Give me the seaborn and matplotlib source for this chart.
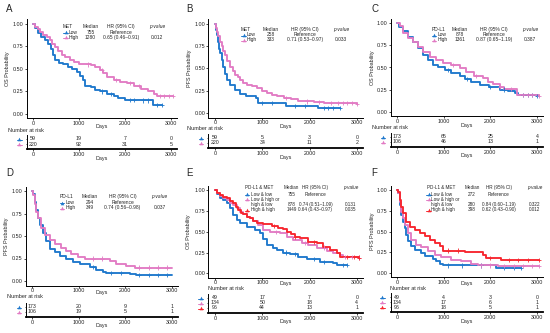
import numpy as np
import pandas as pd
import matplotlib
matplotlib.use("Agg")
import matplotlib.pyplot as plt
import matplotlib.transforms as mtransforms
from matplotlib.lines import Line2D
import seaborn as sns

# ---------------- data ----------------
# A: OS by MET
a_low_t = [0, 50, 100, 180, 260, 330, 380, 430, 480, 560, 650, 750, 850, 950, 1030, 1080, 1130, 1250, 1350, 1450, 1600, 1750, 1850, 2000, 2300, 2600, 2800]
a_low_s = [1.0, 0.95, 0.90, 0.86, 0.82, 0.78, 0.72, 0.66, 0.60, 0.57, 0.55, 0.52, 0.50, 0.47, 0.42, 0.38, 0.31, 0.30, 0.27, 0.25, 0.22, 0.20, 0.18, 0.16, 0.15, 0.10, 0.10]
a_low_c = [1500, 1700, 2100, 2200, 2400, 2500, 2700, 2800]
a_high_t = [0, 50, 100, 150, 220, 300, 360, 420, 480, 540, 620, 700, 800, 900, 1000, 1100, 1250, 1350, 1450, 1520, 1600, 1750, 1900, 2050, 2200, 2350, 2500, 2620, 2700, 3050]
a_high_s = [1.0, 0.97, 0.94, 0.91, 0.88, 0.85, 0.82, 0.78, 0.74, 0.70, 0.66, 0.63, 0.60, 0.58, 0.56, 0.55, 0.54, 0.52, 0.49, 0.45, 0.41, 0.38, 0.36, 0.34, 0.31, 0.28, 0.25, 0.22, 0.20, 0.20]
a_high_c = [1200, 1500, 1800, 2100, 2300, 2750, 2850, 2950, 3050]

# B: PFS by MET
b_low_t = [0, 15, 35, 55, 80, 105, 140, 175, 210, 250, 320, 420, 520, 650, 860, 900, 1500, 2170, 2650]
b_low_s = [1.0, 0.93, 0.88, 0.80, 0.72, 0.67, 0.60, 0.52, 0.44, 0.37, 0.31, 0.26, 0.21, 0.19, 0.17, 0.11, 0.08, 0.06, 0.06]
b_low_c = [1000, 1200, 1700, 1900, 2300, 2400, 2500, 2650]
b_high_t = [0, 20, 45, 70, 100, 140, 175, 210, 260, 320, 370, 425, 480, 530, 600, 675, 780, 890, 1000, 1100, 1200, 1310, 1450, 1600, 1750, 1880, 2090, 2300, 3000]
b_high_s = [1.0, 0.95, 0.91, 0.86, 0.80, 0.75, 0.70, 0.65, 0.58, 0.52, 0.47, 0.43, 0.40, 0.37, 0.34, 0.32, 0.30, 0.28, 0.25, 0.22, 0.20, 0.19, 0.17, 0.16, 0.14, 0.13, 0.12, 0.11, 0.10]
b_high_c = [1500, 1950, 2200, 2450, 2600, 2700, 2800, 2900, 3000]

# C: OS by PD-L1
c_low_t = [0, 50, 130, 235, 340, 450, 560, 660, 770, 880, 1020, 1160, 1340, 1450, 1590, 1770, 1980, 2200, 2380, 2520, 2600, 3000]
c_low_s = [1.0, 0.96, 0.91, 0.85, 0.79, 0.72, 0.64, 0.585, 0.53, 0.50, 0.47, 0.44, 0.40, 0.37, 0.34, 0.30, 0.28, 0.25, 0.23, 0.215, 0.19, 0.18]
c_low_c = [1100, 1500, 2000, 2300, 2700, 2800, 2900, 3000]
c_high_t = [0, 60, 130, 235, 340, 450, 560, 700, 840, 985, 1160, 1340, 1480, 1660, 1840, 1950, 2060, 2200, 2300, 2580, 3050]
c_high_s = [1.0, 0.97, 0.89, 0.84, 0.79, 0.73, 0.68, 0.62, 0.58, 0.55, 0.53, 0.49, 0.45, 0.40, 0.38, 0.34, 0.31, 0.275, 0.26, 0.19, 0.18]
c_high_c = [1200, 1700, 2200, 2450, 2700, 2800, 2900, 3050]

# D: PFS by PD-L1
d_low_t = [0, 20, 55, 90, 130, 165, 235, 305, 380, 485, 590, 735, 880, 1020, 1235, 1380, 1520, 1590, 2100, 2235, 3000]
d_low_s = [1.0, 0.97, 0.88, 0.79, 0.70, 0.62, 0.53, 0.44, 0.36, 0.32, 0.28, 0.24, 0.215, 0.19, 0.16, 0.12, 0.10, 0.085, 0.075, 0.065, 0.065]
d_low_c = [1300, 1700, 1900, 2300, 2500, 2700, 2900]
d_high_t = [0, 20, 55, 90, 130, 200, 270, 380, 485, 630, 735, 845, 985, 1130, 1665, 1810, 2020, 2200, 3000]
d_high_s = [1.0, 0.96, 0.86, 0.77, 0.70, 0.59, 0.51, 0.455, 0.41, 0.37, 0.33, 0.30, 0.27, 0.25, 0.22, 0.19, 0.17, 0.15, 0.15]
d_high_c = [1300, 1500, 2300, 2500, 2700, 2900]

# E: OS by PD-L1 & MET
e_low_t = [0, 50, 106, 176, 247, 318, 388, 460, 530, 670, 847, 953, 1023, 1108, 1235, 1306, 1447, 1588, 1765, 1941, 2223, 2505, 2576, 2790]
e_low_s = [1.0, 0.95, 0.91, 0.88, 0.84, 0.78, 0.70, 0.64, 0.60, 0.56, 0.52, 0.48, 0.41, 0.34, 0.31, 0.28, 0.25, 0.23, 0.20, 0.17, 0.14, 0.12, 0.10, 0.10]
e_low_c = [1500, 1700, 2100, 2300, 2700, 2790]
e_mid_t = [0, 50, 106, 176, 247, 318, 388, 460, 530, 600, 670, 740, 812, 918, 1023, 1165, 1376, 1517, 1659, 1835, 1976, 2153, 2364, 2505, 2647, 2717, 3040]
e_mid_s = [1.0, 0.96, 0.93, 0.90, 0.88, 0.85, 0.82, 0.78, 0.74, 0.71, 0.68, 0.66, 0.63, 0.58, 0.52, 0.50, 0.48, 0.44, 0.40, 0.36, 0.34, 0.31, 0.27, 0.24, 0.22, 0.20, 0.19]
e_mid_c = [1300, 1900, 2300, 2750, 2900, 3040]
e_high_t = [0, 50, 106, 176, 247, 318, 388, 440, 494, 550, 600, 670, 741, 812, 882, 1023, 1200, 1341, 1447, 1517, 1600, 1694, 1800, 1976, 2153, 2294, 2435, 2576, 2647, 3040]
e_high_s = [1.0, 0.97, 0.94, 0.92, 0.90, 0.87, 0.84, 0.80, 0.76, 0.73, 0.71, 0.68, 0.66, 0.63, 0.61, 0.59, 0.57, 0.55, 0.53, 0.50, 0.47, 0.44, 0.42, 0.38, 0.36, 0.32, 0.28, 0.24, 0.20, 0.19]
e_high_c = [1250, 1700, 2100, 2800, 2950, 3040]

# F: PFS by PD-L1 & MET
f_low_t = [0, 20, 55, 90, 130, 165, 200, 235, 305, 380, 520, 590, 770, 840, 915, 985, 2130, 2660]
f_low_s = [1.0, 0.96, 0.82, 0.70, 0.62, 0.54, 0.46, 0.38, 0.32, 0.28, 0.24, 0.20, 0.17, 0.14, 0.11, 0.09, 0.06, 0.06]
f_low_c = [1100, 1400, 1800, 2300, 2500, 2660]
f_mid_t = [0, 20, 55, 90, 130, 165, 235, 305, 415, 520, 665, 805, 950, 1165, 1380, 1590, 1735, 2165, 3040]
f_mid_s = [1.0, 0.97, 0.86, 0.74, 0.66, 0.58, 0.48, 0.40, 0.34, 0.31, 0.27, 0.22, 0.19, 0.16, 0.14, 0.11, 0.09, 0.08, 0.08]
f_mid_c = [1800, 2000, 2300, 2500, 2700, 2900, 3040]
f_high_t = [0, 20, 55, 90, 130, 200, 270, 380, 485, 590, 700, 805, 915, 985, 1450, 1840, 1915, 2235, 3040]
f_high_s = [1.0, 0.98, 0.88, 0.80, 0.72, 0.62, 0.56, 0.52, 0.48, 0.44, 0.40, 0.36, 0.32, 0.27, 0.25, 0.22, 0.18, 0.16, 0.16]
f_high_c = [1100, 1300, 2000, 2400, 2600, 2800, 3040]

# number at risk at 0 / 1000 / 2000 / 3000 days
risk_days = [0, 1000, 2000, 3000]
a_risk = [[59, 19, 7, 0], [220, 92, 31, 5]]
b_risk = [[59, 5, 3, 0], [220, 34, 11, 2]]
c_risk = [[173, 65, 25, 4], [106, 46, 13, 1]]
d_risk = [[173, 20, 9, 1], [106, 19, 5, 1]]
e_risk = [[49, 17, 7, 0], [134, 50, 18, 4], [96, 44, 13, 1]]
f_risk = [[49, 4, 3, 0], [134, 17, 6, 1], [96, 18, 5, 1]]

# legend tables
two_groups = ["Low", "High"]
three_groups = ["Low & low", "Low & high or\nhigh & low", "High & high"]
a_median, a_hr, a_p = ["755", "1280"], ["Reference", "0.65 (0.46\u20130.91)"], ["", "0.012"]
b_median, b_hr, b_p = ["258", "333"], ["Reference", "0.71 (0.53\u20130.97)"], ["", "0.033"]
c_median, c_hr, c_p = ["878", "1361"], ["Reference", "0.87 (0.65\u20131.19)"], ["", "0.387"]
d_median, d_hr, d_p = ["294", "349"], ["Reference", "0.74 (0.56\u20130.98)"], ["", "0.037"]
e_median, e_hr, e_p = ["755", "878", "1449"], ["Reference", "0.74 (0.51\u20131.09)", "0.64 (0.43\u20130.97)"], ["", "0.131", "0.035"]
f_median, f_hr, f_p = ["272", "280", "398"], ["Reference", "0.84 (0.60\u20131.19)", "0.62 (0.43\u20130.90)"], ["", "0.322", "0.012"]

BLUE, PINK, RED = "#1f78cc", "#e27bc4", "#f7262e"

panels = [
    dict(letter="A", ylab="OS Probability", title="MET", names=two_groups, colors=[BLUE, PINK],
         curves=[(a_low_t, a_low_s, a_low_c), (a_high_t, a_high_s, a_high_c)],
         risk=a_risk, med=a_median, hr=a_hr, p=a_p,
         box=(26.6, 19.5, 177, 118.5), days_y=126.7, ylab_x=7, letter_xy=(5.5, 8.5),
         leg=dict(head=(62.7, 26.7), row0=32.3, key=65.5, name=69, med=90.5, hr=121, p=157, fs=3.5),
         rbox=(135, 149), nar=(8.3, 130.5), rdays_y=158.5, rkey=19.3),
    dict(letter="B", ylab="PFS Probability", title="MET", names=two_groups, colors=[BLUE, PINK],
         curves=[(b_low_t, b_low_s, b_low_c), (b_high_t, b_high_s, b_high_c)],
         risk=b_risk, med=b_median, hr=b_hr, p=b_p,
         box=(208.4, 19.5, 363, 117.5), days_y=126.7, ylab_x=189.3, letter_xy=(186, 8.5),
         leg=dict(head=(241, 29.3), row0=34.6, key=243.5, name=246.7, med=271, hr=305, p=341, fs=3.5),
         rbox=(134, 148), nar=(187, 128.3), rdays_y=157, rkey=201),
    dict(letter="C", ylab="OS Probability", title="PD-L1", names=two_groups, colors=[BLUE, PINK],
         curves=[(c_low_t, c_low_s, c_low_c), (c_high_t, c_high_s, c_high_c)],
         risk=c_risk, med=c_median, hr=c_hr, p=c_p,
         box=(390.5, 19, 543, 116), days_y=125, ylab_x=372.3, letter_xy=(371, 8.5),
         leg=dict(head=(431.7, 29.3), row0=34.6, key=434, name=438, med=460, hr=494, p=530, fs=3.5),
         rbox=(133, 147), nar=(372, 127.3), rdays_y=156, rkey=383),
    dict(letter="D", ylab="PFS Probability", title="PD-L1", names=two_groups, colors=[BLUE, PINK],
         curves=[(d_low_t, d_low_s, d_low_c), (d_high_t, d_high_s, d_high_c)],
         risk=d_risk, med=d_median, hr=d_hr, p=d_p,
         box=(25.5, 186.5, 178, 285.5), days_y=292.3, ylab_x=6.7, letter_xy=(6.5, 173.5),
         leg=dict(head=(60, 196.7), row0=202.5, key=62, name=65.5, med=90, hr=122.5, p=159.5, fs=3.5),
         rbox=(302.7, 316.7), nar=(6.7, 296.7), rdays_y=326, rkey=19),
    dict(letter="E", ylab="OS Probability", title="PD-L1 & MET", names=three_groups, colors=[BLUE, PINK, RED],
         curves=[(e_low_t, e_low_s, e_low_c), (e_mid_t, e_mid_s, e_mid_c), (e_high_t, e_high_s, e_high_c)],
         risk=e_risk, med=e_median, hr=e_hr, p=e_p,
         box=(208.4, 186, 363, 277.5), days_y=283.3, ylab_x=188.3, letter_xy=(186, 173.5),
         leg=dict(head=(245, 187.7), row0=194.3, key=247, name=250.7, med=291.5, hr=315.5, p=350.5, fs=3.35),
         rbox=(293.7, 312.7), nar=(208.3, 289), rdays_y=321.7, rkey=200.7),
    dict(letter="F", ylab="PFS Probability", title="PD-L1 & MET", names=three_groups, colors=[BLUE, PINK, RED],
         curves=[(f_low_t, f_low_s, f_low_c), (f_mid_t, f_mid_s, f_mid_c), (f_high_t, f_high_s, f_high_c)],
         risk=f_risk, med=f_median, hr=f_hr, p=f_p,
         box=(390.5, 186, 543, 277), days_y=284, ylab_x=372.3, letter_xy=(371, 173.5),
         leg=dict(head=(426.7, 187.7), row0=194.3, key=428.5, name=431, med=472, hr=499, p=535, fs=3.35),
         rbox=(293.3, 312.3), nar=(390, 288.3), rdays_y=321, rkey=382.3),
]

sns.set_theme(style="ticks")
plt.rcParams["font.family"] = ["Liberation Sans", "DejaVu Sans"]

W, H = 550, 333
fig = plt.figure(figsize=(W / 100, H / 100), dpi=100)
fig.patch.set_facecolor("white")
PX = mtransforms.Affine2D().scale(1 / W, -1 / H).translate(0, 1) + fig.transFigure
XLIM = (-140, 3130)
ROW = 5.1


def px_box(l, t, r, b):
    return [l / W, 1 - b / H, (r - l) / W, (b - t) / H]


def txt(x, y, s, size=3.9, **kw):
    kw.setdefault("va", "center")
    fig.text(x, y, s, transform=PX, fontsize=size, **kw)


def key(x, y, color):
    fig.add_artist(Line2D([x - 2.4, x + 2.4], [y + 0.9, y + 0.9], transform=PX, color=color, lw=0.7))
    fig.add_artist(Line2D([x], [y], transform=PX, marker="^", ms=2.6, mew=0, color=color, lw=0))


def step_at(t, s, days):
    idx = np.searchsorted(t, days, side="right") - 1
    return np.asarray(s)[idx]


def style_axis(ax):
    for side in ["top", "right"]:
        ax.spines[side].set_visible(False)
    for side in ["left", "bottom"]:
        ax.spines[side].set_color("black")
        ax.spines[side].set_linewidth(0.7)
    ax.tick_params(length=1.3, width=0.5, pad=0.8, labelsize=3.9, color="black", labelcolor="#222222")
    ax.set_xlabel("")
    ax.set_ylabel("")
    ax.set_facecolor("white")


for pn in panels:
    l, t, r, b = pn["box"]
    ax = fig.add_axes(px_box(l, t, r, b))
    pal = dict(zip(pn["names"], pn["colors"]))

    lines = pd.concat([pd.DataFrame({"days": ct, "surv": cs, "group": nm})
                       for (ct, cs, _), nm in zip(pn["curves"], pn["names"])], ignore_index=True)
    cens = pd.concat([pd.DataFrame({"days": cc, "surv": step_at(ct, cs, cc), "group": nm})
                      for (ct, cs, cc), nm in zip(pn["curves"], pn["names"])], ignore_index=True)

    sns.lineplot(data=lines, x="days", y="surv", hue="group", hue_order=pn["names"], palette=pal,
                 estimator=None, drawstyle="steps-post", lw=1.35, legend=False, ax=ax)
    sns.scatterplot(data=cens, x="days", y="surv", hue="group", hue_order=pn["names"], palette=pal,
                    marker="+", s=9, linewidth=0.6, legend=False, ax=ax, zorder=3)

    ax.set_xlim(*XLIM)
    ax.set_ylim(-0.05, 1.05)
    ax.set_xticks(risk_days)
    ax.set_yticks([0, 0.25, 0.5, 0.75, 1.0])
    ax.set_yticklabels(["0.00", "0.25", "0.50", "0.75", "1.00"])
    style_axis(ax)

    # axis titles
    txt((l + r) / 2, pn["days_y"], "Days", ha="center")
    txt(pn["ylab_x"], (t + b) / 2, pn["ylab"], ha="center", rotation=90)
    lx, ly = pn["letter_xy"]
    txt(lx, ly, pn["letter"], size=7, ha="left")

    # legend table
    lg = pn["leg"]
    fs = lg["fs"]
    hx, hy = lg["head"]
    txt(hx, hy, pn["title"], size=fs, ha="left")
    txt(lg["med"], hy, "Median", size=fs, ha="center")
    txt(lg["hr"], hy, "HR (95% CI)", size=fs, ha="center")
    txt(lg["p"], hy, "p-value", size=fs, ha="center", style="italic")
    y = lg["row0"]
    for nm, col, md, hr, pv in zip(pn["names"], pn["colors"], pn["med"], pn["hr"], pn["p"]):
        key(lg["key"], y, col)
        parts = nm.split("\n")
        for k, part in enumerate(parts):
            txt(lg["name"], y + k * ROW, part, size=fs, ha="left")
        y_val = y + (len(parts) - 1) * ROW
        txt(lg["med"], y_val, md, size=fs, ha="center")
        txt(lg["hr"], y_val, hr, size=fs, ha="center")
        txt(lg["p"], y_val, pv, size=fs, ha="center")
        y += len(parts) * ROW

    # risk table
    rt, rb = pn["rbox"]
    n = len(pn["risk"])
    axr = fig.add_axes(px_box(l, rt, r, rb))
    axr.set_xlim(*XLIM)
    axr.set_ylim(n, -0.8)
    axr.set_xticks(risk_days)
    axr.set_yticks(range(n))
    axr.set_yticklabels([])
    style_axis(axr)
    axr.spines["bottom"].set_linewidth(1.3)
    axr.tick_params(axis="y", length=1.0)
    for i, row in enumerate(pn["risk"]):
        for dd, nr in zip(risk_days, row):
            axr.text(dd, i, str(nr), ha="center", va="center", fontsize=3.8)
        key(pn["rkey"], rt + 4 + 5 * i, pn["colors"][i])
    nx, ny = pn["nar"]
    txt(nx, ny, "Number at risk", size=4.0, ha="left")
    txt((l + r) / 2, pn["rdays_y"], "Days", ha="center")

fig.savefig("out.png", dpi=100, facecolor="white")
